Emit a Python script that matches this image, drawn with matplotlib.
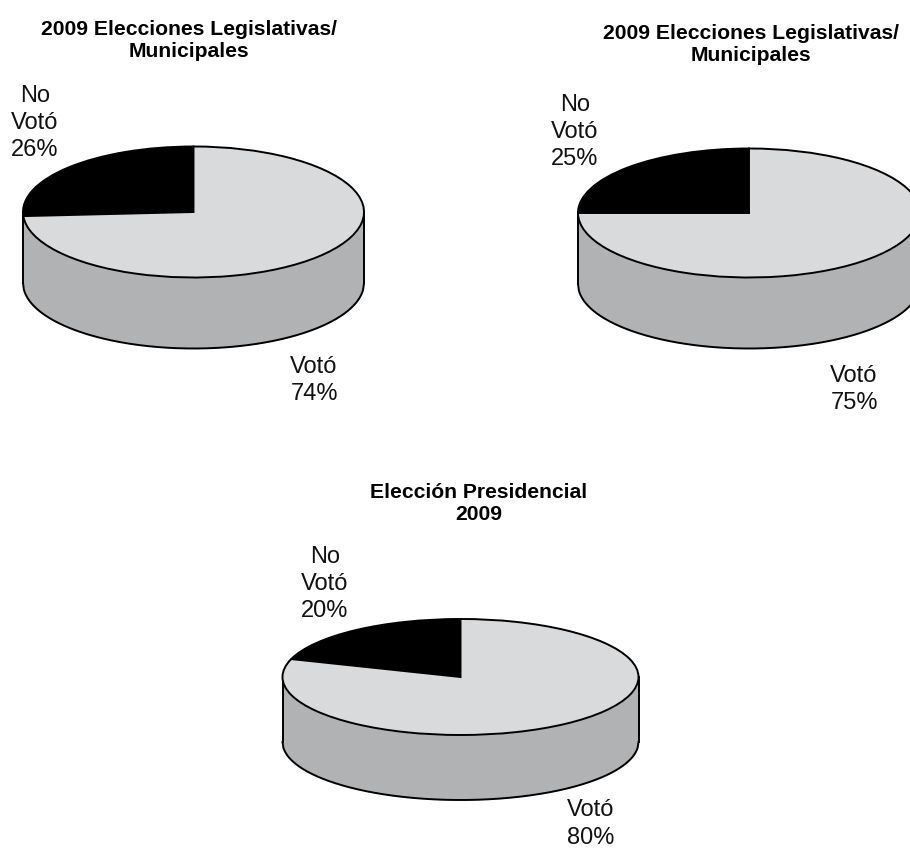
import numpy as np
import matplotlib
matplotlib.use("Agg")
import matplotlib.pyplot as plt

plt.rcParams["font.family"] = ["Liberation Sans", "DejaVu Sans"]

W, H = 910, 848

titles = ["2009 Elecciones Legislativas/\nMunicipales",
          "2009 Elecciones Legislativas/\nMunicipales",
          "Elección Presidencial\n2009"]
no_voto = [26, 25, 20]
voto = [74, 75, 80]

# Pixel layout of each disc: centre, radii, wall height
centres = [(193.5, 212), (749, 213), (460.5, 677)]
radii = [(170.5, 65.5), (171, 64.5), (178, 58)]
walls = [71, 71, 65]
title_pos = [(189, 40.5), (751, 44.5), (479, 503.5)]
no_pos = [(35, 123), (575, 132), (325, 584)]
si_pos = [(314, 380.5), (854, 389.5), (591, 824)]

TOP = "#d9dadc"
WALL = "#b1b2b4"
INK = "#000000"
LW = 1.4

fig = plt.figure(figsize=(W / 100, H / 100), dpi=100, facecolor="white")

for title, no, si, c, r, wall, tp, np_, sp in zip(
        titles, no_voto, voto, centres, radii, walls,
        title_pos, no_pos, si_pos):
    ax = fig.add_axes([(c[0] - r[0]) / W, 1 - (c[1] + r[1]) / H,
                       2 * r[0] / W, 2 * r[1] / H])
    ax.axis("off")

    # Cylinder wall below the front rim of the disc
    x = np.linspace(-1, 1, 400)
    rim = -np.sqrt(1 - x ** 2)
    depth = wall / r[1]
    ax.fill_between(x, rim, rim - depth, color=WALL, lw=0, clip_on=False, zorder=1)
    ax.plot(x, rim - depth, color=INK, lw=LW, clip_on=False, zorder=2)
    ax.plot([-1, -1], [0, -depth], color=INK, lw=LW, clip_on=False, zorder=2)
    ax.plot([1, 1], [0, -depth], color=INK, lw=LW, clip_on=False, zorder=2)

    wedges, _ = ax.pie([no, si], colors=[INK, TOP], startangle=90, counterclock=True,
                       radius=1, wedgeprops=dict(edgecolor=INK, linewidth=LW))
    for w in wedges:
        w.set_zorder(3)
        w.set_clip_on(False)
    ax.set_aspect("auto")
    ax.set_xlim(-1, 1)
    ax.set_ylim(-1, 1)

    fig.text(tp[0] / W, 1 - tp[1] / H, title, ha="center", va="center",
             fontsize=15.2, fontweight="bold", linespacing=1.15, color=INK)
    fig.text(np_[0] / W, 1 - np_[1] / H, f"No\nVotó\n{no}%", ha="center", va="center",
             fontsize=17, linespacing=1.3, color="#111111")
    fig.text(sp[0] / W, 1 - sp[1] / H, f"Votó\n{si}%", ha="center", va="center",
             fontsize=17, linespacing=1.3, color="#111111")

fig.savefig("out.png", dpi=100, facecolor="white")
